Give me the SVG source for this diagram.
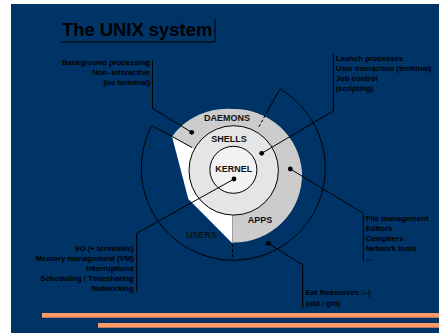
<svg xmlns="http://www.w3.org/2000/svg" width="439" height="333" viewBox="0 0 439 333">
<style>
.lbl{font-family:"Liberation Sans",Arial,sans-serif;font-weight:bold;font-size:9px;fill:#111;text-anchor:middle}
.note{font-family:"Liberation Sans",Arial,sans-serif;font-weight:bold;font-size:7.7px;fill:#000}
.r{text-anchor:end}
.ln{fill:none;stroke:#000;stroke-width:1}
.dash{fill:none;stroke:#000;stroke-width:1;stroke-dasharray:3 2}
.dot{fill:#000}
</style>
<rect x="0" y="0" width="439" height="333" fill="#fff"/>
<rect x="11" y="4" width="428" height="329" fill="#003366"/>
<rect x="42" y="313" width="397" height="4.7" fill="#FF9966"/>
<rect x="98" y="323" width="341" height="4.7" fill="#FF9966"/>

<g id="title">
<text x="62" y="36" style="font-family:'Liberation Sans',Arial,sans-serif;font-weight:bold;font-size:18.4px;fill:#000">The UNIX system</text>
<polyline class="ln" points="60,42 215,42 215,19"/>
</g>

<g id="daemons">
<path d="M233.5 170.5 L172 136.5 A68 68 0 0 1 233 109 A68 68 0 0 1 302 172 A68 68 0 0 1 232.5 242.5 Z" fill="#CCCCCC"/>
<polygon points="172,136.5 188.3,199 232.5,243.5 232.5,172 233.5,170.5" fill="#fff"/>
<line class="ln" x1="173" y1="137" x2="192" y2="147.5"/>
<line class="dash" x1="267.5" y1="111" x2="258" y2="128.5"/>
<text class="lbl" x="227" y="121">DAEMONS</text>
</g>

<g id="apps">
<line x1="232.5" y1="215" x2="232.5" y2="243" stroke="#999" stroke-width="0.8"/>
<text class="lbl" x="260" y="222.5">APPS</text>
</g>

<g id="users">
<path class="ln" d="M280 89 A92 92 0 1 1 151.7 125.7"/>
<line class="ln" x1="280" y1="89" x2="267.5" y2="111"/>
<line class="ln" x1="151.7" y1="125.7" x2="173" y2="137"/>
<line class="dash" x1="232.5" y1="244" x2="232.5" y2="259"/>
<text class="lbl" x="201.5" y="237.5">USERS</text>
</g>

<g id="shells">
<circle cx="233.7" cy="170.4" r="44.7" fill="#E5E5E5" stroke="#000" stroke-width="1"/>
<text class="lbl" x="229" y="141.5">SHELLS</text>
</g>

<g id="kernel">
<circle cx="233.4" cy="169.8" r="23.5" fill="#F2F2F2" stroke="#000" stroke-width="1"/>
<text class="lbl" x="233.7" y="172">KERNEL</text>
</g>

<g id="connectors">
<polyline class="ln" points="152.5,60 152.5,108.3 191.7,132.3"/>
<circle class="dot" cx="191.7" cy="132.3" r="2.4"/>
<polyline class="ln" points="333.3,54 333.3,111 261.7,153.3"/>
<circle class="dot" cx="261.7" cy="153.3" r="2.4"/>
<polyline class="ln" points="290.3,169 363.3,213.3 363.3,261.7"/>
<circle class="dot" cx="290.3" cy="169" r="2.4"/>
<polyline class="ln" points="268.3,243.3 302.7,265 302.7,308.3"/>
<circle class="dot" cx="268.3" cy="243.3" r="2.4"/>
<polyline class="ln" points="234,179 136.7,233.3 136.7,291.7"/>
<circle class="dot" cx="234" cy="179" r="2.4"/>
</g>

<g id="note-daemons">
<text class="note r" x="150" y="65">Background processing</text>
<text class="note r" x="150" y="75">Non–interactive</text>
<text class="note r" x="150" y="85">(no terminal)</text>
</g>
<g id="note-shells">
<text class="note" x="335.7" y="61">Launch processes</text>
<text class="note" x="335.7" y="71">User interaction (terminal)</text>
<text class="note" x="335.7" y="81">Job control</text>
<text class="note" x="335.7" y="91">(scripting)</text>
</g>
<g id="note-apps">
<text class="note" x="365.7" y="221">File management</text>
<text class="note" x="365.7" y="231">Editors</text>
<text class="note" x="365.7" y="241">Compilers</text>
<text class="note" x="365.7" y="251">Network tools</text>
<text class="note" x="365.7" y="261">...</text>
</g>
<g id="note-users">
<text class="note" x="305.7" y="295">Eat Resources :–)</text>
<text class="note" x="305.7" y="305.5">(uid / gid)</text>
</g>
<g id="note-kernel">
<text class="note r" x="133.7" y="251">I/O (+ terminals)</text>
<text class="note r" x="133.7" y="261">Memory management (VM)</text>
<text class="note r" x="133.7" y="271">Interruptions</text>
<text class="note r" x="133.7" y="281">Scheduling / Timesharing</text>
<text class="note r" x="133.7" y="291">Networking</text>
</g>
</svg>
